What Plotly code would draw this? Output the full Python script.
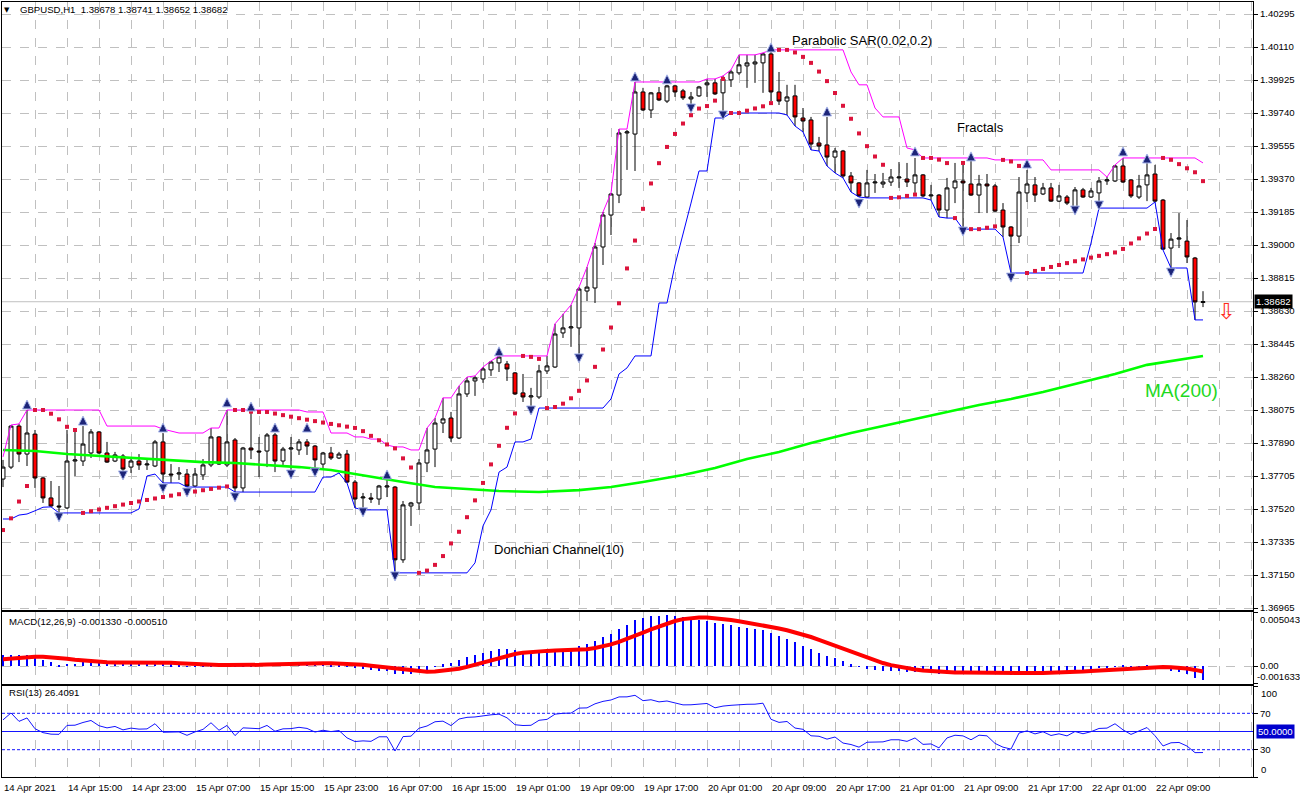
import plotly.graph_objects as go

# ---------------- data ----------------
x_labels = ["14 Apr 2021", "14 Apr 15:00", "14 Apr 23:00", "15 Apr 07:00", "15 Apr 15:00",
            "15 Apr 23:00", "16 Apr 07:00", "16 Apr 15:00", "19 Apr 01:00", "19 Apr 09:00",
            "19 Apr 17:00", "20 Apr 01:00", "20 Apr 09:00", "20 Apr 17:00", "21 Apr 01:00",
            "21 Apr 09:00", "21 Apr 17:00", "22 Apr 01:00", "22 Apr 09:00"]
price_tick_labels = ["1.36965", "1.37150", "1.37335", "1.37520", "1.37705", "1.37890", "1.38075",
                     "1.38260", "1.38445", "1.38630", "1.38815", "1.39000", "1.39185", "1.39370",
                     "1.39555", "1.39740", "1.39925", "1.40110", "1.40295"]

bar_open = [1.37688, 1.37755, 1.37985, 1.37828, 1.37940, 1.37694, 1.37582, 1.37537, 1.37526, 1.37789,
            1.37789, 1.37834, 1.37952, 1.37834, 1.37789, 1.37817, 1.37755, 1.37789, 1.37767, 1.37761,
            1.37896, 1.37716, 1.37716, 1.37716, 1.37649, 1.37711, 1.37767, 1.37924, 1.37767, 1.37907,
            1.37638, 1.37862, 1.37845, 1.37845, 1.37935, 1.37789, 1.37856, 1.37851, 1.37896, 1.37873,
            1.37772, 1.37834, 1.37806, 1.37828, 1.37671, 1.37582, 1.37582, 1.37576, 1.37643, 1.37643,
            1.37235, 1.37537, 1.37554, 1.37778, 1.37856, 1.38002, 1.38030, 1.37918, 1.38165, 1.38238,
            1.38249, 1.38300, 1.38339, 1.38333, 1.38283, 1.38171, 1.38148, 1.38148, 1.38294, 1.38316,
            1.38507, 1.38535, 1.38535, 1.38742, 1.38759, 1.38989, 1.39168, 1.39280, 1.39628, 1.39622,
            1.39858, 1.39757, 1.39853, 1.39807, 1.39892, 1.39864, 1.39819, 1.39836, 1.39898, 1.39909,
            1.39853, 1.39926, 1.39965, 1.40004, 1.40015, 1.40021, 1.40071, 1.39858, 1.39807, 1.39836,
            1.39712, 1.39701, 1.39572, 1.39561, 1.39493, 1.39527, 1.39387, 1.39348, 1.39269, 1.39348,
            1.39342, 1.39353, 1.39376, 1.39370, 1.39348, 1.39393, 1.39275, 1.39280, 1.39196, 1.39320,
            1.39359, 1.39342, 1.39280, 1.39342, 1.39331, 1.39196, 1.39101, 1.39050, 1.39292, 1.39337,
            1.39286, 1.39320, 1.39246, 1.39269, 1.39213, 1.39309, 1.39269, 1.39292, 1.39359, 1.39359,
            1.39443, 1.39365, 1.39269, 1.39337, 1.39398, 1.39252, 1.38983, 1.39033, 1.39022, 1.38927,
            1.38678]
bar_high = [1.37795, 1.37991, 1.37997, 1.38075, 1.37963, 1.37699, 1.37677, 1.37649, 1.37963, 1.37952,
            1.37985, 1.37968, 1.37957, 1.37896, 1.37840, 1.37828, 1.37806, 1.37828, 1.37795, 1.37907,
            1.37946, 1.37772, 1.37755, 1.37744, 1.37750, 1.37800, 1.37974, 1.37929, 1.38075, 1.37918,
            1.37868, 1.38064, 1.37924, 1.37946, 1.37946, 1.37868, 1.37924, 1.37912, 1.37912, 1.37879,
            1.37840, 1.37868, 1.37840, 1.37851, 1.37683, 1.37610, 1.37610, 1.37655, 1.37694, 1.37649,
            1.37565, 1.37560, 1.37800, 1.37974, 1.38030, 1.38143, 1.38064, 1.38210, 1.38260, 1.38266,
            1.38316, 1.38350, 1.38378, 1.38350, 1.38288, 1.38277, 1.38199, 1.38328, 1.38378, 1.38558,
            1.38614, 1.38664, 1.38764, 1.38876, 1.39011, 1.39185, 1.39292, 1.39650, 1.39645, 1.39914,
            1.39881, 1.39858, 1.39886, 1.39898, 1.39898, 1.39875, 1.39858, 1.39892, 1.39931, 1.39931,
            1.39948, 1.39982, 1.40066, 1.40066, 1.40066, 1.40077, 1.40094, 1.39970, 1.39898, 1.39898,
            1.39768, 1.39718, 1.39606, 1.39718, 1.39544, 1.39533, 1.39409, 1.39353, 1.39421, 1.39398,
            1.39404, 1.39426, 1.39465, 1.39460, 1.39488, 1.39398, 1.39337, 1.39286, 1.39376, 1.39460,
            1.39460, 1.39477, 1.39393, 1.39398, 1.39342, 1.39235, 1.39106, 1.39381, 1.39421, 1.39381,
            1.39348, 1.39348, 1.39337, 1.39280, 1.39325, 1.39320, 1.39320, 1.39381, 1.39381, 1.39449,
            1.39488, 1.39370, 1.39393, 1.39460, 1.39449, 1.39258, 1.39067, 1.39179, 1.39140, 1.38933,
            1.38741]
bar_low = [1.37643, 1.37744, 1.37783, 1.37761, 1.37638, 1.37554, 1.37532, 1.37498, 1.37520, 1.37705,
           1.37761, 1.37806, 1.37828, 1.37778, 1.37783, 1.37716, 1.37722, 1.37739, 1.37739, 1.37755,
           1.37666, 1.37666, 1.37683, 1.37643, 1.37643, 1.37683, 1.37755, 1.37767, 1.37755, 1.37615,
           1.37615, 1.37800, 1.37699, 1.37755, 1.37727, 1.37767, 1.37722, 1.37823, 1.37823, 1.37750,
           1.37750, 1.37795, 1.37800, 1.37666, 1.37526, 1.37515, 1.37554, 1.37543, 1.37587, 1.37162,
           1.37218, 1.37425, 1.37515, 1.37727, 1.37755, 1.37946, 1.37896, 1.37912, 1.38148, 1.38154,
           1.38227, 1.38266, 1.38288, 1.38238, 1.38159, 1.38120, 1.38086, 1.38137, 1.38277, 1.38311,
           1.38479, 1.38429, 1.38378, 1.38686, 1.38675, 1.38888, 1.39056, 1.39235, 1.39421, 1.39415,
           1.39751, 1.39712, 1.39807, 1.39796, 1.39830, 1.39813, 1.39779, 1.39830, 1.39830, 1.39841,
           1.39740, 1.39886, 1.39954, 1.39881, 1.39909, 1.39853, 1.39807, 1.39785, 1.39729, 1.39667,
           1.39634, 1.39533, 1.39527, 1.39443, 1.39404, 1.39376, 1.39297, 1.39269, 1.39264, 1.39292,
           1.39320, 1.39331, 1.39320, 1.39325, 1.39292, 1.39269, 1.39252, 1.39157, 1.39151, 1.39235,
           1.39089, 1.39275, 1.39179, 1.39179, 1.39185, 1.39045, 1.38843, 1.39011, 1.39241, 1.39241,
           1.39280, 1.39241, 1.39241, 1.39224, 1.39207, 1.39264, 1.39264, 1.39241, 1.39337, 1.39353,
           1.39348, 1.39264, 1.39258, 1.39246, 1.39241, 1.38972, 1.38871, 1.38983, 1.38899, 1.38580,
           1.38652]
bar_close = [1.37755, 1.37985, 1.37828, 1.37946, 1.37694, 1.37582, 1.37537, 1.37532, 1.37789, 1.37795,
             1.37884, 1.37952, 1.37834, 1.37783, 1.37823, 1.37744, 1.37789, 1.37767, 1.37772, 1.37896,
             1.37716, 1.37711, 1.37722, 1.37649, 1.37716, 1.37767, 1.37924, 1.37772, 1.37896, 1.37638,
             1.37862, 1.37851, 1.37840, 1.37935, 1.37789, 1.37856, 1.37862, 1.37896, 1.37873, 1.37795,
             1.37834, 1.37806, 1.37828, 1.37671, 1.37576, 1.37587, 1.37576, 1.37649, 1.37649, 1.37235,
             1.37543, 1.37554, 1.37778, 1.37851, 1.38002, 1.38025, 1.37918, 1.38165, 1.38238, 1.38255,
             1.38305, 1.38344, 1.38372, 1.38305, 1.38165, 1.38148, 1.38154, 1.38294, 1.38322, 1.38501,
             1.38535, 1.38541, 1.38753, 1.38764, 1.38989, 1.39168, 1.39286, 1.39628, 1.39634, 1.39858,
             1.39757, 1.39853, 1.39813, 1.39892, 1.39858, 1.39825, 1.39830, 1.39886, 1.39909, 1.39847,
             1.39931, 1.39970, 1.40010, 1.40021, 1.40026, 1.40071, 1.39858, 1.39807, 1.39830, 1.39718,
             1.39695, 1.39566, 1.39555, 1.39493, 1.39527, 1.39387, 1.39348, 1.39275, 1.39348, 1.39353,
             1.39353, 1.39381, 1.39381, 1.39353, 1.39393, 1.39275, 1.39280, 1.39196, 1.39320, 1.39359,
             1.39348, 1.39280, 1.39342, 1.39331, 1.39190, 1.39101, 1.39050, 1.39297, 1.39342, 1.39280,
             1.39320, 1.39246, 1.39275, 1.39235, 1.39309, 1.39269, 1.39303, 1.39359, 1.39365, 1.39443,
             1.39353, 1.39275, 1.39331, 1.39393, 1.39246, 1.38977, 1.39033, 1.39039, 1.38933, 1.38681,
             1.38682]

# MA(200) (bar index, value)
ma200_idx = [0, 4, 8, 12, 16, 20, 25, 29, 33, 37, 41, 44, 46, 50, 54, 58, 62, 67, 72, 76, 80, 85, 89,
             93, 97, 101, 106, 110, 114, 118, 122, 126, 130, 135, 139, 143, 147, 150]
ma200_val = [1.37851, 1.37845, 1.37828, 1.37817, 1.37806, 1.37795, 1.37783, 1.37778, 1.37767, 1.37755,
             1.37739, 1.37716, 1.37699, 1.37671, 1.37643, 1.37632, 1.37621, 1.37615, 1.37626, 1.37643,
             1.37671, 1.37711, 1.37750, 1.37800, 1.37840, 1.37890, 1.37946, 1.37985, 1.38025, 1.38064,
             1.38103, 1.38137, 1.38176, 1.38232, 1.38277, 1.38328, 1.38356, 1.38378]

# Fractal arrows (bar index, arrow level)
fractal_up_idx = [3, 10, 20, 28, 31, 34, 38, 48, 62, 79, 83, 96, 103, 114, 121, 128, 140, 143]
fractal_up_val = [1.38131, 1.38041, 1.38002, 1.38143, 1.38120, 1.38002, 1.38002, 1.37739, 1.38429,
                  1.39970, 1.39954, 1.40133, 1.39774, 1.39550, 1.39522, 1.39482, 1.39550, 1.39510]
fractal_dn_idx = [7, 15, 20, 23, 29, 36, 39, 45, 49, 66, 72, 86, 90, 107, 120, 126, 134, 137, 146]
fractal_dn_val = [1.37448, 1.37683, 1.37610, 1.37587, 1.37560, 1.37688, 1.37699, 1.37476, 1.37117,
                  1.38047, 1.38339, 1.39740, 1.39701, 1.39207, 1.39050, 1.38792, 1.39168, 1.39196,
                  1.38820]

# state of the indicators just before the first visible bar (read from the left edge)
donchian_prior_high = [1.37760, 1.37812, 1.37790, 1.37775, 1.37760, 1.37745, 1.37730, 1.37750, 1.37770]
donchian_prior_low = [1.37470, 1.37464, 1.37486, 1.37492, 1.37510, 1.37530, 1.37545, 1.37560, 1.37580]
sar_start = 1.37402
sar_start_ep = 1.37812
sar_start_af = 0.16
macd_ema12_start = 1.37800
macd_ema26_start = 1.37690
macd_prior = [0.00040, 0.00045, 0.00050, 0.00055, 0.00060, 0.00065, 0.00075, 0.00085]
rsi_prev_close = 1.37688
rsi_avg_gain_start = 0.00045
rsi_avg_loss_start = 0.00030

last_price = 1.38682

# ---------------- indicators ----------------
n = len(bar_close)
idx = list(range(n))

# Donchian channel (10)
hh = donchian_prior_high + bar_high
ll = donchian_prior_low + bar_low
p0 = len(donchian_prior_high)
don_up = [max(hh[i + p0 - 9:i + p0 + 1]) for i in range(n)]
don_dn = [min(ll[i + p0 - 9:i + p0 + 1]) for i in range(n)]

# Parabolic SAR (0.02, 0.2)
step, amax = 0.02, 0.2
sar = [sar_start]
ep, af, up = sar_start_ep, sar_start_af, True
for t in range(1, n):
    s = sar[-1] + af * (ep - sar[-1])
    if up:
        lim = min(bar_low[t - 1], bar_low[t - 2]) if t >= 2 else bar_low[t - 1]
        s = min(s, lim)
        if bar_low[t] < s:
            up, s, ep, af = False, ep, bar_low[t], step
        elif bar_high[t] > ep:
            ep, af = bar_high[t], min(af + step, amax)
    else:
        lim = max(bar_high[t - 1], bar_high[t - 2]) if t >= 2 else bar_high[t - 1]
        s = max(s, lim)
        if bar_high[t] > s:
            up, s, ep, af = True, ep, bar_high[t], step
        elif bar_low[t] < ep:
            ep, af = bar_low[t], min(af + step, amax)
    sar.append(s)

# MACD (12,26,9)
e12, e26 = macd_ema12_start, macd_ema26_start
macd = []
for c in bar_close:
    e12 += 2 / 13 * (c - e12)
    e26 += 2 / 27 * (c - e26)
    macd.append(e12 - e26)
mm = macd_prior + macd
signal = [sum(mm[i:i + 9]) / 9 for i in range(n)]

# RSI (13)
ag, al, prev = rsi_avg_gain_start, rsi_avg_loss_start, rsi_prev_close
rsi = []
for c in bar_close:
    d = c - prev
    ag = (ag * 12 + max(d, 0)) / 13
    al = (al * 12 + max(-d, 0)) / 13
    rsi.append(100 - 100 / (1 + ag / al) if al > 0 else 100)
    prev = c

# ---------------- figure ----------------
FONT = "Liberation Sans, Arial, sans-serif"
GRID = "#c0c0c0"


def dom(top_px, bot_px):
    return [(777 - bot_px) / 775, (777 - top_px) / 775]


fig = go.Figure()

fig.add_trace(go.Candlestick(
    x=idx, open=bar_open, high=bar_high, low=bar_low, close=bar_close,
    increasing=dict(line=dict(color="black", width=1), fillcolor="white"),
    decreasing=dict(line=dict(color="black", width=1), fillcolor="#ff0000"),
    whiskerwidth=0, xaxis="x", yaxis="y", hoverinfo="skip"))

fig.add_trace(go.Scatter(x=ma200_idx, y=ma200_val, mode="lines",
                         line=dict(color="#00ff00", width=2.6), xaxis="x", yaxis="y"))
fig.add_trace(go.Scatter(x=idx, y=don_up, mode="lines", line=dict(color="#ff00ff", width=1),
                         xaxis="x", yaxis="y"))
fig.add_trace(go.Scatter(x=idx, y=don_dn, mode="lines", line=dict(color="#0000ff", width=1),
                         xaxis="x", yaxis="y"))
fig.add_trace(go.Scatter(x=idx, y=sar, mode="markers",
                         marker=dict(symbol="square", size=4, color="#dc143c", line=dict(width=0)),
                         xaxis="x", yaxis="y"))
fig.add_trace(go.Scatter(x=fractal_up_idx, y=fractal_up_val, mode="markers",
                         marker=dict(symbol="arrow-up", size=9, color="#1c2478",
                                     line=dict(color="#aab8ec", width=1)),
                         xaxis="x", yaxis="y"))
fig.add_trace(go.Scatter(x=fractal_dn_idx, y=fractal_dn_val, mode="markers",
                         marker=dict(symbol="arrow-down", size=9, color="#1c2478",
                                     line=dict(color="#aab8ec", width=1)),
                         xaxis="x", yaxis="y"))

fig.add_trace(go.Bar(x=idx, y=macd, width=0.125, marker=dict(color="#0000ff", line=dict(width=0)),
                     xaxis="x2", yaxis="y2"))
fig.add_trace(go.Scatter(x=idx, y=signal, mode="lines", line=dict(color="#ff0000", width=4),
                         xaxis="x2", yaxis="y2"))

fig.add_trace(go.Scatter(x=idx, y=rsi, mode="lines", line=dict(color="#1414ff", width=1),
                         xaxis="x3", yaxis="y3"))

xr = [-0.125, 156.25]
xcommon = dict(range=xr, showline=True, mirror=True, linecolor="black", linewidth=1,
               showgrid=True, gridcolor=GRID, griddash="dash", gridwidth=1,
               tickmode="linear", tick0=0, dtick=4, showticklabels=False, zeroline=False,
               automargin=False, fixedrange=True)

ycommon = dict(side="right", showline=True, mirror=True, linecolor="black", linewidth=1,
               ticks="outside", ticklen=4, tickcolor="black", zeroline=False, automargin=False,
               tickfont=dict(family=FONT, size=9.6, color="black"), fixedrange=True,
               showgrid=True, gridcolor=GRID, griddash="dash", gridwidth=1)

tick_vals = [float(v) for v in price_tick_labels]
macd_top, macd_bot = 0.005043, -0.001633

fig.update_layout(
    width=1300, height=798, template="none",
    paper_bgcolor="white", plot_bgcolor="white",
    margin=dict(l=2, r=47, t=2, b=21, pad=0, autoexpand=False),
    showlegend=False, hovermode=False, bargap=0,
    font=dict(family=FONT, size=9.6, color="black"),
    xaxis=dict(domain=[0, 1], anchor="y", rangeslider=dict(visible=False), **xcommon),
    xaxis2=dict(domain=[0, 1], anchor="y2", matches="x", **xcommon),
    xaxis3=dict(domain=[0, 1], anchor="y3", matches="x", **xcommon),
    yaxis=dict(domain=dom(2, 610), range=[1.369538, 1.403623], tickvals=tick_vals,
               ticktext=price_tick_labels, **ycommon),
    yaxis2=dict(domain=dom(612, 683.5), range=[macd_bot, macd_top],
                tickvals=[macd_bot, 0, macd_top], ticktext=["", "0.00", ""], **ycommon),
    yaxis3=dict(domain=dom(686, 777), range=[0, 100], tickvals=[0, 30, 70, 100],
                ticktext=["", "30", "70", ""], **{**ycommon, "showgrid": False}),
)

shapes = []
# current price line
shapes.append(dict(type="line", xref="paper", x0=0, x1=1, yref="y", y0=last_price, y1=last_price,
                   line=dict(color="#c0c0c0", width=1), layer="below"))
# RSI levels
for lv, dsh in [(70, "3px,2px"), (30, "3px,2px"), (50, "solid")]:
    shapes.append(dict(type="line", xref="paper", x0=0, x1=1, yref="y3", y0=lv, y1=lv,
                       line=dict(color="#1414ff", width=1, dash=dsh)))
fig.update_layout(shapes=shapes)

ann = []
tf = dict(family=FONT, size=9.6, color="black")
for k, lab in enumerate(x_labels):
    ann.append(dict(text=lab, xref="x3", x=k * 8, yref="paper", y=0, xanchor="left", yanchor="top",
                    xshift=-1, yshift=-3, showarrow=False, font=tf))
# title and panel captions
ann.append(dict(text="\u25bc", xref="x", x=0.5, yref="y", y=1.40318, xanchor="center", yanchor="middle",
                showarrow=False, font=dict(family="DejaVu Sans", size=7, color="black")))
ann.append(dict(text="GBPUSD,H1\u00a0 1.38678 1.38741 1.38652 1.38682", xref="x", x=1.9, yref="y",
                y=1.40318, xanchor="left", yanchor="middle", showarrow=False, font=tf))
ann.append(dict(text="MACD(12,26,9) -0.001330 -0.000510", xref="x2", x=0.5, yref="y2", y=0.00418,
                xanchor="left", yanchor="middle", showarrow=False, font=tf))
ann.append(dict(text="RSI(13) 26.4091", xref="x3", x=0.5, yref="y3", y=92.6,
                xanchor="left", yanchor="middle", showarrow=False, font=tf))
# indicator names on the chart
big = dict(family=FONT, size=13, color="black")
ann.append(dict(text="Parabolic SAR(0.02,0.2)", xref="x", x=98.4, yref="y", y=1.40144,
                xanchor="left", yanchor="middle", showarrow=False, font=big))
ann.append(dict(text="Fractals", xref="x", x=119.0, yref="y", y=1.39656,
                xanchor="left", yanchor="middle", showarrow=False, font=big))
ann.append(dict(text="Donchian Channel(10)", xref="x", x=61.1, yref="y", y=1.37291,
                xanchor="left", yanchor="middle", showarrow=False, font=big))
ann.append(dict(text="MA(200)", xref="x", x=142.5, yref="y", y=1.38187,
                xanchor="left", yanchor="middle", showarrow=False,
                font=dict(family=FONT, size=19, color="#1ed81e")))
ann.append(dict(text="\u21e9", xref="x", x=152.9, yref="y", y=1.38625,
                xanchor="center", yanchor="middle", showarrow=False,
                font=dict(family="DejaVu Sans", size=22, color="#ff2a1a")))
# right-axis boxes and edge labels
ann.append(dict(text="1.38682", xref="paper", x=1, xanchor="left", yref="y", y=last_price,
                yanchor="middle", xshift=1, showarrow=False, bgcolor="black", borderpad=1,
                font=dict(family=FONT, size=9.6, color="white")))
ann.append(dict(text="50.0000", xref="paper", x=1, xanchor="left", yref="y3", y=50,
                yanchor="middle", xshift=3, showarrow=False, bgcolor="#0000cd", borderpad=1,
                font=dict(family=FONT, size=9.6, color="white")))
for txt, yr, yv, ya, xs in [("0.005043", "y2", macd_top, "top", 5), ("-0.001633", "y2", macd_bot, "bottom", 2),
                            ("100", "y3", 100, "top", 6), ("0", "y3", 0, "bottom", 6)]:
    ann.append(dict(text=txt, xref="paper", x=1, xanchor="left", xshift=xs, yref=yr, y=yv,
                    yanchor=ya, showarrow=False, font=tf))
fig.update_layout(annotations=ann)

fig.write_html("out.html", config={"displayModeBar": False},
               post_script="document.body.style.margin='0';document.body.style.overflow='hidden';")
